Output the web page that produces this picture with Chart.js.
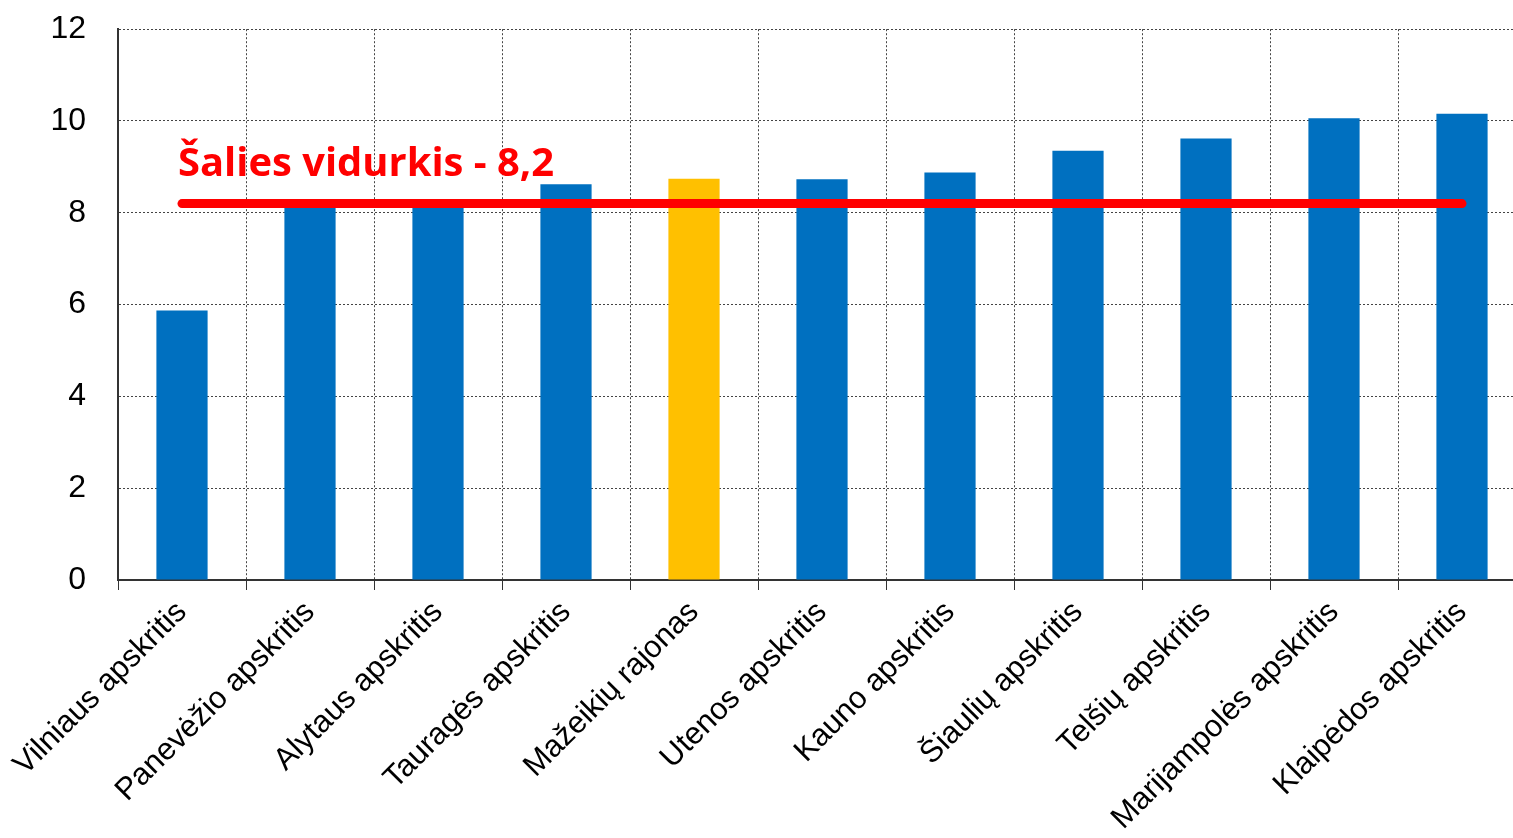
<!DOCTYPE html>
<html>
<head>
<meta charset="utf-8">
<script src="https://cdn.jsdelivr.net/npm/chart.js@4"></script>
<style>
  html, body { margin: 0; padding: 0; background: #fff; overflow: hidden; }
  #wrap { width: 1526px; height: 860px; margin-top: -22px; }
</style>
</head>
<body>
<div id="wrap"><canvas id="chart" width="1526" height="860"></canvas></div>
<script>
const categories = [
    'Vilniaus apskritis', 'Panevėžio apskritis', 'Alytaus apskritis', 'Tauragės apskritis',
    'Mažeikių rajonas', 'Utenos apskritis', 'Kauno apskritis', 'Šiaulių apskritis',
    'Telšių apskritis', 'Marijampolės apskritis', 'Klaipėdos apskritis'
];
const values = [5.87, 8.2, 8.2, 8.62, 8.74, 8.73, 8.88, 9.35, 9.62, 10.06, 10.16];
const highlight = 'Mažeikių rajonas';
const average = 8.2;
const averageLabel = 'Šalies vidurkis - 8,2';
const yTicks = [0, 2, 4, 6, 8, 10, 12];

const BLUE = '#0070C0';
const YELLOW = '#FFC000';
const RED = '#FF0000';
const GRID = '#444444';

// подпись над линией среднего
const averageLabelPlugin = {
    id: 'averageLabel',
    afterDatasetsDraw(chart) {
        const {ctx, scales: {x, y}} = chart;
        ctx.save();
        ctx.fillStyle = RED;
        ctx.font = "bold 40px 'Open Sans', sans-serif";
        ctx.textBaseline = 'alphabetic';
        ctx.fillText(averageLabel, x.getPixelForValue(0) - 4, y.getPixelForValue(average) - 28, 376);
        ctx.restore();
    }
};

new Chart(document.getElementById('chart'), {
    data: {
        labels: categories,
        datasets: [
            {
                type: 'line',
                data: categories.map(() => average),
                borderColor: RED,
                borderWidth: 9,
                borderCapStyle: 'round',
                pointRadius: 0,
                order: 0
            },
            {
                type: 'bar',
                data: values,
                backgroundColor: categories.map(c => c === highlight ? YELLOW : BLUE),
                categoryPercentage: 1,
                barPercentage: 0.4,
                order: 1
            }
        ]
    },
    options: {
        responsive: false,
        animation: false,
        layout: {padding: {top: 12, right: 0, left: 0, bottom: 0}},
        plugins: {
            legend: {display: false},
            tooltip: {enabled: false}
        },
        scales: {
            x: {
                grid: {
                    color: GRID,
                    lineWidth: 1,
                    tickLength: 10,
                    tickColor: '#333',
                    tickBorderDash: [],
                    offset: true
                },
                border: {display: true, color: '#333', width: 2, dash: [2, 2]},
                ticks: {
                    color: '#000',
                    font: {family: "'Liberation Sans', Arial, sans-serif", size: 31},
                    maxRotation: 45,
                    minRotation: 45,
                    autoSkip: false,
                    padding: 4
                },
                afterFit(scale) { scale.height = 258; }
            },
            y: {
                min: 0,
                max: 12,
                afterBuildTicks(scale) { scale.ticks = yTicks.map(v => ({value: v})); },
                grid: {color: GRID, lineWidth: 1, drawTicks: false},
                border: {display: true, color: '#333', width: 2, dash: [2, 2]},
                ticks: {
                    color: '#000',
                    font: {family: "'Liberation Sans', Arial, sans-serif", size: 32},
                    padding: 32
                },
                afterFit(scale) { scale.width = 118; }
            }
        }
    },
    plugins: [averageLabelPlugin]
});
</script>
</body>
</html>
